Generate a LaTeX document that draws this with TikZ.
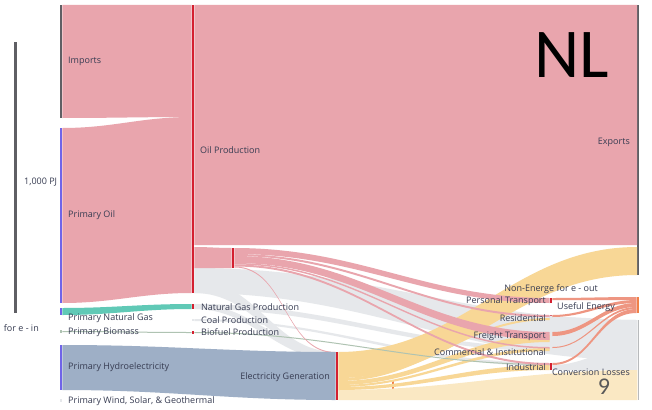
\documentclass[tikz,border=0pt]{standalone}
\usepackage{fontspec}
\setmainfont{Open Sans}
\newfontfamily\slidefont{Carlito}
\usepackage{tikz}
\usetikzlibrary{positioning,calc}

\definecolor{oilpink}{RGB}{233,165,173}
\definecolor{barred}{RGB}{212,32,48}
\definecolor{barpurple}{RGB}{112,100,232}
\definecolor{scalegray}{RGB}{95,95,100}
\definecolor{gasteal}{RGB}{96,201,182}
\definecolor{hydroblue}{RGB}{158,175,198}
\definecolor{elecyellow}{RGB}{248,215,150}
\definecolor{paleyellow}{RGB}{250,232,195}
\definecolor{flowgray}{RGB}{230,232,235}
\definecolor{usefulorange}{RGB}{240,128,72}
\definecolor{thinred}{RGB}{238,150,130}
\definecolor{labeltext}{RGB}{55,60,82}
\definecolor{biogreen}{RGB}{175,195,178}

\newcommand\sankeyband[7]{%
  \fill[#1] ($(#2.north east)+(0,#3)$) to[out=0,in=180] ($(#5.north west)+(0,#6)$)
    -- ($(#5.north west)+(0,#7)$) to[out=180,in=0] ($(#2.north east)+(0,#4)$) -- cycle;}

\begin{document}
\begin{tikzpicture}
[x=1pt,y=-1pt,
   bar/.style={fill=#1, inner sep=0pt, minimum width=2.5pt, anchor=north},
   lbl/.style={font=\fontsize{9}{10}\selectfont, text=labeltext, inner sep=1pt, anchor=west},
   rlbl/.style={lbl, anchor=east}]
\fill[white] (0,0) rectangle (652,409);
\useasboundingbox (0,0) rectangle (652,409);

\node[bar=scalegray, minimum width=3pt, minimum height=271pt] (scale) at (15,42) {};
\node[bar=scalegray, minimum height=113pt] (imp) at (61,5) {};
\node[bar=barpurple, minimum height=175pt] (poil) at (61,128) {};
\node[bar=barpurple, minimum height=7pt] (png) at (61,308) {};
\node[bar=biogreen, minimum height=3pt] (pbio) at (61,330) {};
\node[bar=barpurple, minimum height=45pt] (phyd) at (61,345) {};
\node[bar=flowgray, minimum height=3pt] (pwind) at (61,399) {};
\node[bar=barred, minimum height=288pt] (oilp) at (193,5) {};
\node[bar=barred, minimum height=5pt] (ngp) at (193,304) {};
\node[bar=flowgray, minimum height=2pt] (coalp) at (193,319) {};
\node[bar=barred, minimum height=3pt] (biop) at (193,331) {};
\node[bar=barred, minimum height=20pt] (refn) at (233,248) {};
\node[bar=barred, minimum height=48pt] (elecg) at (337,352) {};
\node[bar=usefulorange, minimum width=1.5pt, minimum height=8pt] (elx) at (393,381) {};
\node[bar=barred, minimum height=5pt] (pers) at (551,298) {};
\node[bar=barred, minimum height=5pt] (resid) at (551,315) {};
\node[bar=barred, minimum height=10pt] (freight) at (551,332) {};
\node[bar=barred, minimum height=4pt] (comm) at (551,347) {};
\node[bar=barred, minimum height=7pt] (indus) at (551,363) {};
\node[bar=scalegray, minimum width=1.5pt, minimum height=270pt] (exp) at (638,5) {};
\node[bar=usefulorange, minimum height=16pt] (useful) at (638,297) {};
\node[bar=flowgray!80!black, minimum width=1pt, minimum height=80pt] (losses) at (638,320) {};

\sankeyband{flowgray}{oilp}{263}{288}{losses}{0}{40}
\sankeyband{flowgray}{oilp}{275}{288}{elecg}{0}{6}
\sankeyband{flowgray}{ngp}{0}{5}{elecg}{0}{8}
\sankeyband{flowgray}{ngp}{0}{5}{comm}{0}{4}
\sankeyband{flowgray}{coalp}{0}{2}{indus}{0}{3}
\sankeyband{flowgray}{resid}{2}{5}{losses}{0}{6}
\sankeyband{flowgray}{freight}{4}{10}{losses}{6}{18}
\sankeyband{flowgray}{comm}{1}{4}{losses}{18}{26}
\sankeyband{flowgray}{indus}{2}{7}{losses}{26}{50}
\sankeyband{paleyellow}{elecg}{38}{48}{losses}{50}{80}
\sankeyband{elecyellow}{elecg}{0}{26}{exp}{242}{270}
\sankeyband{elecyellow}{elecg}{26}{29}{resid}{3}{5}
\sankeyband{elecyellow}{elecg}{29}{33}{freight}{3}{10}
\sankeyband{elecyellow}{elecg}{33}{35}{comm}{1}{4}
\sankeyband{elecyellow}{elecg}{35}{38}{indus}{2}{7}
\sankeyband{biogreen}{biop}{1}{2}{indus}{1}{2}
\sankeyband{oilpink}{imp}{0}{113}{oilp}{0}{112}
\sankeyband{oilpink}{poil}{0}{175}{oilp}{112}{288}
\sankeyband{oilpink}{oilp}{0}{240}{exp}{0}{240}
\sankeyband{oilpink}{oilp}{242}{263}{refn}{0}{20}
\sankeyband{oilpink}{refn}{0}{6}{pers}{0}{5}
\sankeyband{oilpink}{refn}{6}{8}{resid}{0}{2}
\sankeyband{oilpink}{refn}{8}{15}{freight}{0}{8}
\sankeyband{oilpink}{refn}{15}{16.5}{comm}{0}{1.5}
\sankeyband{oilpink}{refn}{16.5}{18.5}{indus}{0}{2}
\sankeyband{oilpink}{refn}{18.5}{19.5}{elecg}{0}{1}
\sankeyband{gasteal}{png}{0}{7}{ngp}{0}{5}
\sankeyband{biogreen}{pbio}{1}{2}{biop}{1}{2}
\sankeyband{hydroblue}{phyd}{0}{45}{elecg}{0}{48}
\sankeyband{thinred}{pers}{0}{2}{useful}{0}{3}
\sankeyband{thinred}{resid}{0}{2}{useful}{3}{6}
\sankeyband{thinred}{freight}{0}{4}{useful}{6}{10}
\sankeyband{thinred}{comm}{0}{1}{useful}{10}{12}
\sankeyband{thinred}{indus}{0}{2}{useful}{12}{16}

\node[lbl] at (23,182) {1,000 PJ};
\node[rlbl] at (40,328) {for e - in};
\node[lbl] at (67,61) {Imports};
\node[lbl] at (67,215) {Primary Oil};
\node[lbl] at (67,318) {Primary Natural Gas};
\node[lbl] at (67,332) {Primary Biomass};
\node[lbl] at (67,367) {Primary Hydroelectricity};
\node[lbl] at (67,401) {Primary Wind, Solar, \& Geothermal};
\node[lbl] at (199,150) {Oil Production};
\node[rlbl] at (631,142) {Exports};
\node[lbl] at (200,307) {Natural Gas Production};
\node[lbl] at (200,320) {Coal Production};
\node[lbl] at (200,332) {Biofuel Production};
\node[rlbl] at (331,377) {Electricity Generation};
\node[rlbl] at (599,289) {Non-Energe for e - out};
\node[rlbl] at (547,301) {Personal Transport};
\node[rlbl] at (547,318) {Residential};
\node[rlbl] at (547,336) {Freight Transport};
\node[rlbl] at (547,352) {Commercial \& Institutional};
\node[rlbl] at (547,367) {Industrial};
\node[lbl] at (556,307) {Useful Energy};
\node[rlbl] at (631,372) {Conversion Losses};
\node[font=\slidefont\fontsize{70}{70}\selectfont] (title) at (572,55) {NL};
\node[font=\slidefont\fontsize{24}{24}\selectfont, text=black!65] (slideno) at (604,387) {9};
\end{tikzpicture}
\end{document}
